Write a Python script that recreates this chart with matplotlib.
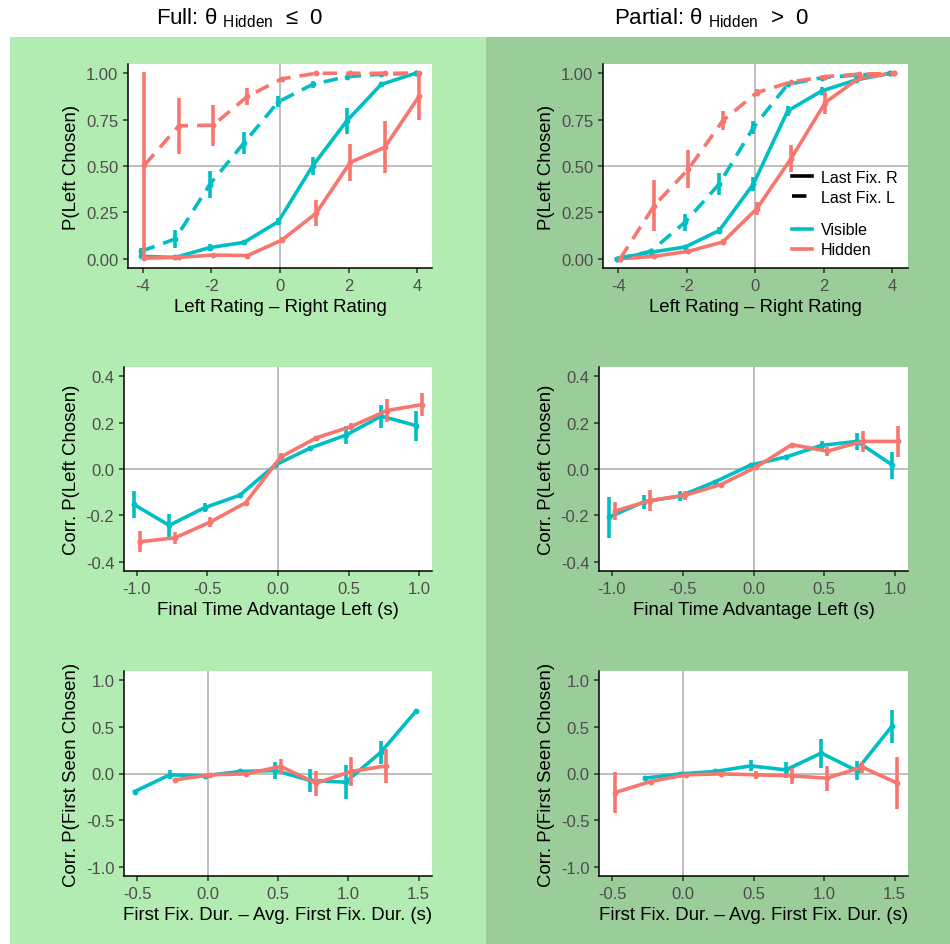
import matplotlib.pyplot as plt
from matplotlib.lines import Line2D
from matplotlib.patches import Rectangle

plt.rcParams['font.family'] = ['Liberation Sans', 'DejaVu Sans']
plt.rcParams['mathtext.fontset'] = 'custom'
plt.rcParams['mathtext.rm'] = 'Liberation Sans'
plt.rcParams['axes.unicode_minus'] = False

VIS = '#00BFC4'
HID = '#F8766D'
LW = 2.6

# ---- choice curves: P(left chosen) by rating difference ----
rating_diff = [-4, -3, -2, -1, 0, 1, 2, 3, 4]

full_vis_r = [0.013, 0.007, 0.06, 0.088, 0.20, 0.50, 0.744, 0.94, 1.0]
full_vis_r_se = [0.008, 0.005, 0.02, 0.015, 0.02, 0.05, 0.07, 0.015, 0.0]
full_hid_r = [0.003, 0.007, 0.02, 0.017, 0.10, 0.245, 0.52, 0.60, 0.875]
full_hid_r_se = [0.0, 0.0, 0.0, 0.0, 0.015, 0.07, 0.10, 0.14, 0.125]
full_vis_l = [0.04, 0.107, 0.40, 0.624, 0.846, 0.94, 0.982, 0.995, 1.0]
full_vis_l_se = [0.02, 0.05, 0.075, 0.06, 0.03, 0.02, 0.0, 0.0, 0.0]
full_hid_l = [0.505, 0.717, 0.72, 0.875, 0.97, 1.0, 1.0, 1.0, 1.0]
full_hid_l_se = [0.5, 0.15, 0.11, 0.045, 0.0, 0.0, 0.0, 0.0, 0.0]

part_vis_r = [0.0, 0.035, 0.063, 0.152, 0.403, 0.797, 0.905, 0.964, 1.0]
part_vis_r_se = [0.0, 0.01, 0.0, 0.02, 0.04, 0.025, 0.02, 0.01, 0.0]
part_hid_r = [0.0, 0.013, 0.04, 0.09, 0.27, 0.54, 0.842, 0.976, 1.0]
part_hid_r_se = [0.0, 0.0, 0.0, 0.015, 0.035, 0.075, 0.06, 0.0, 0.0]
part_vis_l = [0.0, 0.04, 0.197, 0.403, 0.708, 0.94, 0.976, 0.99, 1.0]
part_vis_l_se = [0.0, 0.01, 0.045, 0.06, 0.035, 0.015, 0.0, 0.0, 0.0]
part_hid_l = [0.0, 0.287, 0.484, 0.744, 0.896, 0.953, 0.982, 0.995, 1.0]
part_hid_l_se = [0.0, 0.14, 0.10, 0.05, 0.02, 0.0, 0.0, 0.0, 0.0]

# ---- final time advantage ----
time_adv = [-1.0, -0.75, -0.5, -0.25, 0.0, 0.25, 0.5, 0.75, 1.0]

full_vis_ta = [-0.153, -0.243, -0.167, -0.113, 0.017, 0.091, 0.146, 0.228, 0.187]
full_vis_ta_se = [0.06, 0.05, 0.02, 0.01, 0.008, 0.008, 0.04, 0.05, 0.065]
full_hid_ta = [-0.314, -0.297, -0.229, -0.146, 0.052, 0.134, 0.184, 0.252, 0.278]
full_hid_ta_se = [0.045, 0.025, 0.02, 0.008, 0.015, 0.008, 0.015, 0.05, 0.05]

part_vis_ta = [-0.208, -0.141, -0.117, -0.055, 0.017, 0.052, 0.102, 0.119, 0.017]
part_vis_ta_se = [0.088, 0.03, 0.02, 0.008, 0.008, 0.008, 0.02, 0.035, 0.058]
part_hid_ta = [-0.182, -0.136, -0.113, -0.067, 0.009, 0.105, 0.077, 0.119, 0.119]
part_hid_ta_se = [0.04, 0.045, 0.02, 0.008, 0.008, 0.008, 0.02, 0.045, 0.068]

# ---- first fixation duration ----
first_fix = [-0.5, -0.25, 0.0, 0.25, 0.5, 0.75, 1.0, 1.25, 1.5]

full_vis_ff = [-0.194, -0.014, -0.025, 0.022, 0.032, -0.075, -0.093, 0.226, 0.667]
full_vis_ff_se = [0.0, 0.05, 0.01, 0.015, 0.09, 0.12, 0.18, 0.12, 0.0]
full_hid_ff = [None, -0.068, -0.014, -0.004, 0.075, -0.104, 0.022, 0.082, None]
full_hid_ff_se = [0.0, 0.015, 0.01, 0.01, 0.085, 0.135, 0.16, 0.18, 0.0]

part_vis_ff = [None, -0.05, -0.004, 0.022, 0.082, 0.039, 0.219, 0.032, 0.505]
part_vis_ff_se = [0.0, 0.02, 0.01, 0.01, 0.06, 0.085, 0.155, 0.105, 0.18]
part_hid_ff = [-0.204, -0.086, -0.014, -0.004, -0.014, -0.025, -0.05, 0.068, -0.104]
part_hid_ff_se = [0.215, 0.02, 0.01, 0.01, 0.04, 0.085, 0.135, 0.06, 0.28]

W, H = 950, 945
fig = plt.figure(figsize=(W / 100, H / 100), dpi=100)
fig.patches.append(Rectangle((10 / W, 0), 476 / W, 907 / H, transform=fig.transFigure,
                             facecolor='#B3ECB3', edgecolor='none', zorder=-5))
fig.patches.append(Rectangle((486 / W, 0), 464 / W, 907 / H, transform=fig.transFigure,
                             facecolor='#9BCD9B', edgecolor='none', zorder=-5))

fig.text(240 / W, 1 - 18 / H, 'Full: θ $_{\\mathrm{Hidden}}$  ≤  0', ha='center', va='center', fontsize=16)
fig.text(712 / W, 1 - 18 / H, 'Partial: θ $_{\\mathrm{Hidden}}$  >  0', ha='center', va='center', fontsize=16)


def add_ax(x0, y0, x1, y1):
    ax = fig.add_axes([x0 / W, 1 - y1 / H, (x1 - x0) / W, (y1 - y0) / H])
    ax.set_facecolor('white')
    for s in ['top', 'right']:
        ax.spines[s].set_visible(False)
    for s in ['left', 'bottom']:
        ax.spines[s].set_linewidth(1.1)
        ax.spines[s].set_color('black')
    ax.tick_params(labelsize=12, labelcolor='#4D4D4D', length=3.5, width=1.1, color='#333333')
    return ax


def draw(ax, x, y, se, color, ls, shift):
    xs, ys, bars = [], [], []
    for xv, yv, ev in zip(x, y, se):
        if yv is None:
            continue
        xs.append(xv + shift)
        ys.append(yv)
        if ev > 0:
            bars.append((xv + shift, yv - ev, yv + ev))
    line = ax.plot(xs, ys, color=color, lw=LW, ls=ls, marker='o', ms=3.2, zorder=3)[0]
    if ls == '--':
        line.set_dashes((4, 2.5))
    for xv, a, b in bars:
        ax.plot([xv, xv], [a, b], color=color, lw=LW, solid_capstyle='butt', zorder=3)


def ref_lines(ax, yref):
    ax.axvline(0, color='#BEBEBE', lw=1.4, zorder=1)
    ax.axhline(yref, color='#BEBEBE', lw=1.4, zorder=1)


# top row
tops = [
    (add_ax(128, 65, 432, 269), (-4.43, 4.43),
     [(full_vis_r, full_vis_r_se, VIS, '-'), (full_hid_r, full_hid_r_se, HID, '-'),
      (full_vis_l, full_vis_l_se, VIS, '--'), (full_hid_l, full_hid_l_se, HID, '--')]),
    (add_ax(603, 65, 908, 269), (-4.45, 4.47),
     [(part_vis_r, part_vis_r_se, VIS, '-'), (part_hid_r, part_hid_r_se, HID, '-'),
      (part_vis_l, part_vis_l_se, VIS, '--'), (part_hid_l, part_hid_l_se, HID, '--')]),
]
for ax, xl, series in tops:
    ref_lines(ax, 0.5)
    for y, se, c, ls in series:
        draw(ax, rating_diff, y, se, c, ls, -0.05 if c == VIS else 0.05)
    ax.set_xlim(*xl)
    ax.set_ylim(-0.05, 1.05)
    ax.set_xticks([-4, -2, 0, 2, 4])
    ax.set_yticks([0, 0.25, 0.5, 0.75, 1.0])
    ax.set_yticklabels(['0.00', '0.25', '0.50', '0.75', '1.00'])
    ax.set_xlabel('Left Rating – Right Rating', fontsize=13.4)
    ax.set_ylabel('P(Left Chosen)', fontsize=13.4)

leg_ax = tops[1][0]
lt_handles = [Line2D([], [], color='black', lw=LW, ls='-'),
              Line2D([], [], color='black', lw=LW, dashes=(4, 2.5))]
leg1 = leg_ax.legend(lt_handles, ['Last Fix. R', 'Last Fix. L'], loc='center left',
                     bbox_to_anchor=(0.6, 0.395), frameon=False, fontsize=11.5,
                     handlelength=1.2, handletextpad=0.6, labelspacing=0.3, borderaxespad=0)
leg_ax.add_artist(leg1)
col_handles = [Line2D([], [], color=VIS, lw=LW), Line2D([], [], color=HID, lw=LW)]
leg_ax.legend(col_handles, ['Visible', 'Hidden'], loc='center left',
              bbox_to_anchor=(0.6, 0.138), frameon=False, fontsize=11.5,
              handlelength=1.2, handletextpad=0.6, labelspacing=0.3, borderaxespad=0)

# middle row
mids = [
    (add_ax(124, 368, 432, 572), full_vis_ta, full_vis_ta_se, full_hid_ta, full_hid_ta_se),
    (add_ax(599, 368, 908, 572), part_vis_ta, part_vis_ta_se, part_hid_ta, part_hid_ta_se),
]
for ax, vy, vse, hy, hse in mids:
    ref_lines(ax, 0)
    draw(ax, time_adv, vy, vse, VIS, '-', -0.02)
    draw(ax, time_adv, hy, hse, HID, '-', 0.02)
    ax.set_xlim(-1.09, 1.09)
    ax.set_ylim(-0.44, 0.44)
    ax.set_xticks([-1.0, -0.5, 0.0, 0.5, 1.0])
    ax.set_xticklabels(['-1.0', '-0.5', '0.0', '0.5', '1.0'])
    ax.set_yticks([-0.4, -0.2, 0.0, 0.2, 0.4])
    ax.set_yticklabels(['-0.4', '-0.2', '0.0', '0.2', '0.4'])
    ax.set_xlabel('Final Time Advantage Left (s)', fontsize=13.4)
    ax.set_ylabel('Corr. P(Left Chosen)', fontsize=13.4)

# bottom row
bots = [
    (add_ax(124, 672, 432, 877), full_vis_ff, full_vis_ff_se, full_hid_ff, full_hid_ff_se),
    (add_ax(599, 672, 908, 877), part_vis_ff, part_vis_ff_se, part_hid_ff, part_hid_ff_se),
]
for ax, vy, vse, hy, hse in bots:
    ref_lines(ax, 0)
    draw(ax, first_fix, vy, vse, VIS, '-', -0.02)
    draw(ax, first_fix, hy, hse, HID, '-', 0.02)
    ax.set_xlim(-0.595, 1.595)
    ax.set_ylim(-1.1, 1.1)
    ax.set_xticks([-0.5, 0.0, 0.5, 1.0, 1.5])
    ax.set_xticklabels(['-0.5', '0.0', '0.5', '1.0', '1.5'])
    ax.set_yticks([-1.0, -0.5, 0.0, 0.5, 1.0])
    ax.set_yticklabels(['-1.0', '-0.5', '0.0', '0.5', '1.0'])
    ax.set_xlabel('First Fix. Dur. – Avg. First Fix. Dur. (s)', fontsize=13.4)
    ax.set_ylabel('Corr. P(First Seen Chosen)', fontsize=13.4)

fig.savefig('out.png', dpi=100)
